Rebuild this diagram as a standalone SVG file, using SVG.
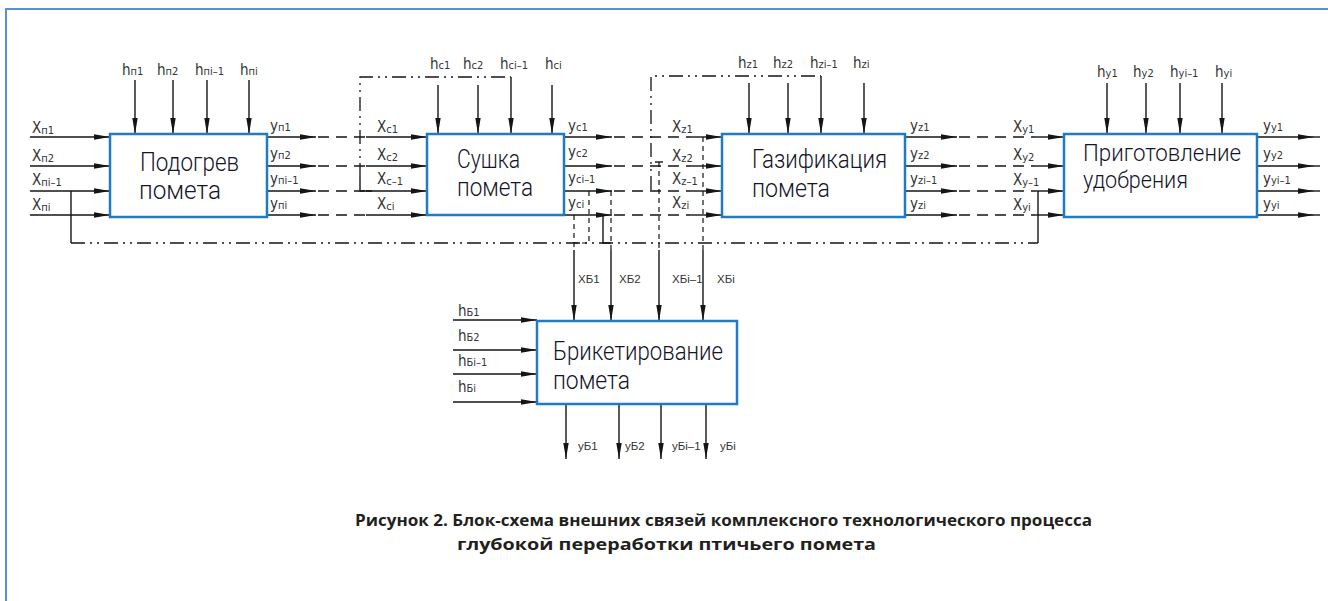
<svg xmlns="http://www.w3.org/2000/svg" width="1328" height="601" viewBox="0 0 1328 601">
<style>
.box{fill:#fff;stroke:#1f7bc4;stroke-width:2.5}
.ln{stroke:#151515;stroke-width:1.4;fill:none}
.ar{stroke:#151515;stroke-width:1.4;fill:none;marker-end:url(#ah)}
.ds{stroke:#151515;stroke-width:1.3;fill:none;stroke-dasharray:11 7}
.dd{stroke:#151515;stroke-width:1.3;fill:none;stroke-dasharray:14 5 2 5 2 5}
.dt{stroke:#151515;stroke-width:1.2;fill:none;stroke-dasharray:5 4}
.lbl{font-family:"Liberation Sans Narrow","DejaVu Sans Condensed","Liberation Sans",sans-serif;font-size:15px;fill:#333}
.sub{font-size:11px}
.sm{font-family:"Liberation Sans","DejaVu Sans",sans-serif;font-size:11.5px;fill:#333}
.ttl{font-family:Roboto,"Noto Sans","Liberation Sans",sans-serif;font-weight:300;font-size:26px;fill:#15152a}
.ttl4{font-size:23px}
.cap{font-family:"Open Sans","Noto Sans","Liberation Sans",sans-serif;font-weight:700;font-size:16px;fill:#231f20}
</style>
<defs>
<marker id="ah" markerUnits="userSpaceOnUse" markerWidth="18" markerHeight="8" refX="16" refY="4" orient="auto">
<path d="M0,1.3 L16,4 L0,6.7 z" fill="#151515"/>
</marker>
</defs>
<rect width="1328" height="601" fill="#fff"/>
<path d="M6,601 V9 H1328" fill="none" stroke="#5b8fd0" stroke-width="2"/>

<g id="connectors">
<line class="ar" x1="30" y1="137" x2="110" y2="137"/>
<line class="ar" x1="30" y1="166" x2="110" y2="166"/>
<line class="ar" x1="30" y1="191" x2="110" y2="191"/>
<line class="ar" x1="30" y1="215" x2="110" y2="215"/>
<line class="ar" x1="135" y1="80" x2="135" y2="134"/>
<line class="ar" x1="173" y1="80" x2="173" y2="134"/>
<line class="ar" x1="207" y1="80" x2="207" y2="134"/>
<line class="ar" x1="249" y1="80" x2="249" y2="134"/>
<line class="ar" x1="267" y1="137" x2="316" y2="137"/><line class="ds" x1="318" y1="137" x2="366" y2="137"/><line class="ar" x1="366" y1="137" x2="427" y2="137"/>
<line class="ar" x1="267" y1="166" x2="316" y2="166"/><line class="ds" x1="318" y1="166" x2="366" y2="166"/><line class="ar" x1="366" y1="166" x2="427" y2="166"/>
<line class="ar" x1="267" y1="191" x2="316" y2="191"/><line class="ds" x1="318" y1="191" x2="366" y2="191"/><line class="ar" x1="366" y1="191" x2="427" y2="191"/>
<line class="ar" x1="267" y1="215" x2="316" y2="215"/><line class="ds" x1="318" y1="215" x2="366" y2="215"/><line class="ar" x1="366" y1="215" x2="427" y2="215"/>
<line class="ar" x1="438" y1="85" x2="438" y2="134"/>
<line class="ar" x1="478" y1="85" x2="478" y2="134"/>
<line class="ar" x1="511" y1="77" x2="511" y2="134"/>
<line class="ar" x1="552" y1="85" x2="552" y2="134"/>
<path class="dd" d="M360,177 V77 H511"/>
<path class="ln" d="M360,177 V191 H372"/>
<line class="ar" x1="564" y1="137" x2="612" y2="137"/><line class="ds" x1="614" y1="137" x2="690" y2="137"/><line class="ar" x1="690" y1="137" x2="722" y2="137"/>
<line class="ar" x1="564" y1="166" x2="612" y2="166"/><line class="ds" x1="614" y1="166" x2="690" y2="166"/><line class="ar" x1="690" y1="166" x2="722" y2="166"/>
<line class="ar" x1="564" y1="191" x2="612" y2="191"/><line class="ds" x1="614" y1="191" x2="690" y2="191"/><line class="ar" x1="690" y1="191" x2="722" y2="191"/>
<line class="ar" x1="564" y1="215" x2="612" y2="215"/><line class="ds" x1="614" y1="215" x2="690" y2="215"/><line class="ar" x1="690" y1="215" x2="722" y2="215"/>
<line class="ar" x1="749" y1="83" x2="749" y2="134"/>
<line class="ar" x1="788" y1="83" x2="788" y2="134"/>
<line class="ar" x1="821" y1="76" x2="821" y2="134"/>
<line class="ar" x1="864" y1="83" x2="864" y2="134"/>
<path class="dd" d="M651,190 V76 H821"/>
<line class="ar" x1="905" y1="137" x2="957" y2="137"/><line class="ds" x1="959" y1="137" x2="1035" y2="137"/><line class="ar" x1="1035" y1="137" x2="1064" y2="137"/>
<line class="ar" x1="905" y1="166" x2="957" y2="166"/><line class="ds" x1="959" y1="166" x2="1035" y2="166"/><line class="ar" x1="1035" y1="166" x2="1064" y2="166"/>
<line class="ar" x1="905" y1="191" x2="957" y2="191"/><line class="ds" x1="959" y1="191" x2="1035" y2="191"/><line class="ar" x1="1035" y1="191" x2="1064" y2="191"/>
<line class="ar" x1="905" y1="215" x2="957" y2="215"/><line class="ds" x1="959" y1="215" x2="1035" y2="215"/><line class="ar" x1="1035" y1="215" x2="1064" y2="215"/>
<line class="ar" x1="1107" y1="83" x2="1107" y2="134"/>
<line class="ar" x1="1146" y1="83" x2="1146" y2="134"/>
<line class="ar" x1="1180" y1="83" x2="1180" y2="134"/>
<line class="ar" x1="1222" y1="83" x2="1222" y2="134"/>
<line class="ar" x1="1257" y1="137" x2="1314" y2="137"/><line class="ln" x1="1314" y1="137" x2="1320" y2="137"/>
<line class="ar" x1="1257" y1="166" x2="1314" y2="166"/><line class="ln" x1="1314" y1="166" x2="1320" y2="166"/>
<line class="ar" x1="1257" y1="191" x2="1314" y2="191"/><line class="ln" x1="1314" y1="191" x2="1320" y2="191"/>
<line class="ar" x1="1257" y1="215" x2="1314" y2="215"/><line class="ln" x1="1314" y1="215" x2="1320" y2="215"/>
<path class="ln" d="M71,191 V243"/>
<line class="dd" x1="71" y1="243" x2="1038" y2="243"/>
<path class="ln" d="M1038,243 V191"/>
<path class="dt" d="M574,215 V250"/><line class="ar" x1="574" y1="250" x2="574" y2="321"/>
<path class="dt" d="M589,191 V243 H574"/>
<path class="dt" d="M611,191 V250"/><line class="ar" x1="611" y1="250" x2="611" y2="321"/>
<path class="ln" d="M603,215 V243 H611"/>
<path class="ln" d="M655,162 H663"/>
<path class="dt" d="M659,162 V250"/><line class="ar" x1="659" y1="250" x2="659" y2="321"/>
<path class="dt" d="M703,137 V250"/><line class="ar" x1="703" y1="250" x2="703" y2="321"/>
<line class="ar" x1="453" y1="320" x2="537" y2="320"/>
<line class="ar" x1="453" y1="350" x2="537" y2="350"/>
<line class="ar" x1="453" y1="374" x2="537" y2="374"/>
<line class="ar" x1="453" y1="402" x2="537" y2="402"/>
<line class="ar" x1="566" y1="404" x2="566" y2="459"/>
<line class="ar" x1="619" y1="404" x2="619" y2="459"/>
<line class="ar" x1="661" y1="404" x2="661" y2="459"/>
<line class="ar" x1="706" y1="404" x2="706" y2="459"/>
</g>

<g id="node-podogrev">
<rect class="box" x="110" y="134" width="157" height="83"/>
<text class="ttl" x="140" y="171" textLength="99" lengthAdjust="spacingAndGlyphs">Подогрев</text>
<text class="ttl" x="139" y="199" textLength="82" lengthAdjust="spacingAndGlyphs">помета</text>
<text class="lbl" x="32" y="133">X<tspan class="sub" dy="1">п1</tspan></text>
<text class="lbl" x="32" y="161">X<tspan class="sub" dy="1">п2</tspan></text>
<text class="lbl" x="32" y="185">X<tspan class="sub" dy="1">пi–1</tspan></text>
<text class="lbl" x="32" y="210">X<tspan class="sub" dy="1">пi</tspan></text>
<text class="lbl" x="122" y="75">h<tspan class="sub">п1</tspan></text>
<text class="lbl" x="157" y="75">h<tspan class="sub">п2</tspan></text>
<text class="lbl" x="195" y="75">h<tspan class="sub">пi–1</tspan></text>
<text class="lbl" x="240" y="75">h<tspan class="sub">пi</tspan></text>
<text class="lbl" x="270" y="131">у<tspan class="sub">п1</tspan></text>
<text class="lbl" x="270" y="159">у<tspan class="sub">п2</tspan></text>
<text class="lbl" x="270" y="184">у<tspan class="sub">пi–1</tspan></text>
<text class="lbl" x="270" y="209">у<tspan class="sub">пi</tspan></text>
</g>

<g id="node-sushka">
<rect class="box" x="427" y="134" width="137" height="81"/>
<text class="ttl" x="457" y="168" textLength="63" lengthAdjust="spacingAndGlyphs">Сушка</text>
<text class="ttl" x="457" y="196" textLength="76" lengthAdjust="spacingAndGlyphs">помета</text>
<text class="lbl" x="377" y="132">X<tspan class="sub" dy="1">с1</tspan></text>
<text class="lbl" x="377" y="160">X<tspan class="sub" dy="1">с2</tspan></text>
<text class="lbl" x="377" y="184">X<tspan class="sub" dy="1">с–1</tspan></text>
<text class="lbl" x="377" y="209">X<tspan class="sub" dy="1">сi</tspan></text>
<text class="lbl" x="430" y="69">h<tspan class="sub">с1</tspan></text>
<text class="lbl" x="463" y="69">h<tspan class="sub">с2</tspan></text>
<text class="lbl" x="500" y="69">h<tspan class="sub">сi–1</tspan></text>
<text class="lbl" x="545" y="69">h<tspan class="sub">сi</tspan></text>
<text class="lbl" x="568" y="131">у<tspan class="sub">с1</tspan></text>
<text class="lbl" x="568" y="157">у<tspan class="sub">с2</tspan></text>
<text class="lbl" x="568" y="183">у<tspan class="sub">сi–1</tspan></text>
<text class="lbl" x="568" y="208">у<tspan class="sub">сi</tspan></text>
</g>

<g id="node-gazifikacia">
<rect class="box" x="722" y="134" width="183" height="83"/>
<text class="ttl" x="752" y="168" textLength="135" lengthAdjust="spacingAndGlyphs">Газификация</text>
<text class="ttl" x="752" y="197" textLength="78" lengthAdjust="spacingAndGlyphs">помета</text>
<text class="lbl" x="672" y="132">X<tspan class="sub" dy="1">z1</tspan></text>
<text class="lbl" x="672" y="161">X<tspan class="sub" dy="1">z2</tspan></text>
<text class="lbl" x="672" y="184">X<tspan class="sub" dy="1">z–1</tspan></text>
<text class="lbl" x="672" y="208">X<tspan class="sub" dy="1">zi</tspan></text>
<text class="lbl" x="738" y="68">h<tspan class="sub">z1</tspan></text>
<text class="lbl" x="773" y="68">h<tspan class="sub">z2</tspan></text>
<text class="lbl" x="810" y="68">h<tspan class="sub">zi–1</tspan></text>
<text class="lbl" x="853" y="68">h<tspan class="sub">zi</tspan></text>
<text class="lbl" x="910" y="131">у<tspan class="sub">z1</tspan></text>
<text class="lbl" x="910" y="159">у<tspan class="sub">z2</tspan></text>
<text class="lbl" x="910" y="184">у<tspan class="sub">zi–1</tspan></text>
<text class="lbl" x="910" y="209">у<tspan class="sub">zi</tspan></text>
</g>

<g id="node-prigotovlenie">
<rect class="box" x="1064" y="134" width="193" height="83"/>
<text class="ttl ttl4" x="1083" y="161" textLength="158" lengthAdjust="spacingAndGlyphs">Приготовление</text>
<text class="ttl ttl4" x="1083" y="188" textLength="105" lengthAdjust="spacingAndGlyphs">удобрения</text>
<text class="lbl" x="1013" y="132">X<tspan class="sub" dy="1">у1</tspan></text>
<text class="lbl" x="1013" y="160">X<tspan class="sub" dy="1">у2</tspan></text>
<text class="lbl" x="1013" y="185">X<tspan class="sub" dy="1">у–1</tspan></text>
<text class="lbl" x="1013" y="210">X<tspan class="sub" dy="1">уi</tspan></text>
<text class="lbl" x="1097" y="77">h<tspan class="sub">у1</tspan></text>
<text class="lbl" x="1133" y="77">h<tspan class="sub">у2</tspan></text>
<text class="lbl" x="1170" y="77">h<tspan class="sub">уi–1</tspan></text>
<text class="lbl" x="1215" y="77">h<tspan class="sub">уi</tspan></text>
<text class="lbl" x="1263" y="131">у<tspan class="sub">у1</tspan></text>
<text class="lbl" x="1263" y="159">у<tspan class="sub">у2</tspan></text>
<text class="lbl" x="1263" y="184">у<tspan class="sub">уi–1</tspan></text>
<text class="lbl" x="1263" y="209">у<tspan class="sub">уi</tspan></text>
</g>

<g id="node-briket">
<rect class="box" x="537" y="321" width="200" height="83"/>
<text class="ttl" x="553" y="360" textLength="170" lengthAdjust="spacingAndGlyphs">Брикетирование</text>
<text class="ttl" x="553" y="389" textLength="77" lengthAdjust="spacingAndGlyphs">помета</text>
<text class="sm" x="578" y="283">XБ1</text>
<text class="sm" x="619" y="283">XБ2</text>
<text class="sm" x="672" y="283">XБi–1</text>
<text class="sm" x="717" y="283">XБi</text>
<text class="lbl" x="458" y="316">h<tspan class="sub">Б1</tspan></text>
<text class="lbl" x="458" y="341">h<tspan class="sub">Б2</tspan></text>
<text class="lbl" x="458" y="366">h<tspan class="sub">Бi–1</tspan></text>
<text class="lbl" x="458" y="392">h<tspan class="sub">Бi</tspan></text>
<text class="sm" x="578" y="450">уБ1</text>
<text class="sm" x="625" y="450">уБ2</text>
<text class="sm" x="672" y="450">уБi–1</text>
<text class="sm" x="720" y="450">уБi</text>
</g>

<g id="caption">
<text class="cap" x="355" y="526" textLength="737" lengthAdjust="spacingAndGlyphs">Рисунок 2. Блок-схема внешних связей комплексного технологического процесса</text>
<text class="cap" x="457" y="550" textLength="419" lengthAdjust="spacingAndGlyphs">глубокой переработки птичьего помета</text>
</g>
</svg>
